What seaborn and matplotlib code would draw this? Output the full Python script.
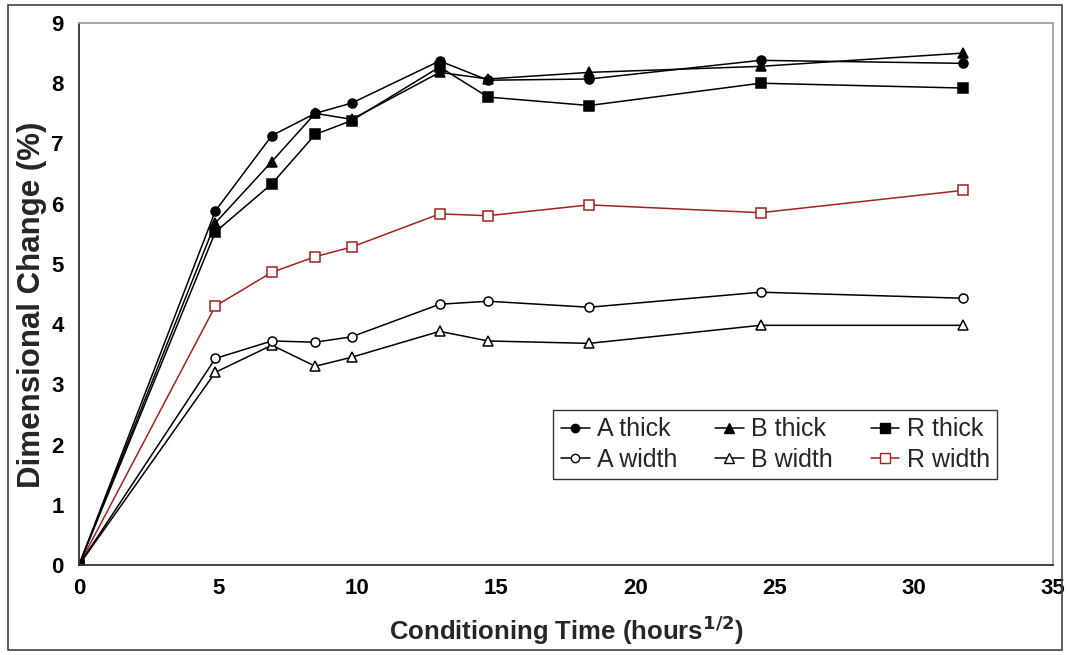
import matplotlib
matplotlib.use("Agg")
import matplotlib.pyplot as plt
import seaborn as sns
import pandas as pd
from matplotlib.lines import Line2D
from matplotlib.patches import Rectangle

# ---- data ----
time_sqrt_hours = [0, 4.90, 6.93, 8.49, 9.80, 12.96, 14.70, 18.33, 24.49, 31.75]
a_thick = [0, 5.88, 7.13, 7.50, 7.67, 8.37, 8.05, 8.07, 8.38, 8.33]
b_thick = [0, 5.68, 6.70, 7.50, 7.40, 8.18, 8.07, 8.18, 8.28, 8.50]
r_thick = [0, 5.53, 6.33, 7.15, 7.38, 8.27, 7.77, 7.63, 8.00, 7.92]
a_width = [0, 3.43, 3.72, 3.70, 3.79, 4.33, 4.38, 4.28, 4.53, 4.43]
b_width = [0, 3.20, 3.65, 3.30, 3.45, 3.88, 3.72, 3.68, 3.98, 3.98]
r_width = [0, 4.30, 4.86, 5.12, 5.28, 5.83, 5.80, 5.98, 5.85, 6.22]
x_ticks = [0, 5, 10, 15, 20, 25, 30, 35]
y_ticks = [0, 1, 2, 3, 4, 5, 6, 7, 8, 9]

sns.set_style("white")
plt.rcParams['font.family'] = ['Liberation Sans', 'DejaVu Sans']

fig = plt.figure(figsize=(10.7, 6.55), dpi=100)
ax = fig.add_axes([79/1070, 1-565/655, (1053-79)/1070, (565-23)/655])

RED = '#A3221E'
series = [
    ("A thick", a_thick, 'o', 'black', 'black', 6.5),
    ("A width", a_width, 'o', 'black', 'white', 6.5),
    ("B thick", b_thick, '^', 'black', 'black', 7),
    ("B width", b_width, '^', 'black', 'white', 7),
    ("R thick", r_thick, 's', 'black', 'black', 7),
    ("R width", r_width, 's', RED, 'white', 7.5),
]
order = ["R width", "B width", "A width", "R thick", "B thick", "A thick"]
sd = {s[0]: s for s in series}
for name in order:
    _, vals, mk, col, fc, ms = sd[name]
    df = pd.DataFrame({"x": time_sqrt_hours, "y": vals})
    sns.lineplot(data=df, x="x", y="y", ax=ax, color=col, marker=mk,
                 markersize=ms, markerfacecolor=fc, markeredgecolor=col,
                 markeredgewidth=1.1, linewidth=1.1, sort=False,
                 estimator=None, legend=False)

handles = []
for name, vals, mk, col, fc, ms in series:
    handles.append(Line2D([], [], color=col, marker=mk, markersize=ms - 0.5,
                          markerfacecolor=fc, markeredgecolor=col,
                          linewidth=1.1, label=name))
leg = ax.legend(handles=handles, ncol=3, loc='upper right',
                bbox_to_anchor=(0.943, 0.286), frameon=True, fancybox=False,
                fontsize=18, handlelength=1.15, handletextpad=0.3,
                columnspacing=1.5, borderpad=0.3, labelspacing=0.25,
                borderaxespad=0)
leg.get_frame().set_edgecolor('black')
leg.get_frame().set_linewidth(1.0)

ax.set_xlim(0, 35)
ax.set_ylim(0, 9)
ax.set_xticks(x_ticks)
ax.set_yticks(y_ticks)
ax.tick_params(direction='in', length=5, width=1, colors='black',
               labelsize=16)
ax.tick_params(axis='x', pad=9)
ax.tick_params(axis='y', pad=11)
for lab in ax.get_xticklabels() + ax.get_yticklabels():
    lab.set_fontweight('bold')

ax.set_xlabel("Conditioning Time (hours$^{\\mathbf{1/2}}$)", fontsize=18.5,
              fontweight='bold', labelpad=11)
ax.set_ylabel("Dimensional Change (%)", fontsize=22.5, fontweight='bold')
ax.yaxis.set_label_coords(-0.033, 0.48)

for side in ['left', 'bottom']:
    ax.spines[side].set_color('#333333')
    ax.spines[side].set_linewidth(1.3)
for side in ['top', 'right']:
    ax.spines[side].set_color('#A0A0A0')
    ax.spines[side].set_linewidth(1.3)
    ax.spines[side].set_visible(True)

fig.patches.append(Rectangle((8/1070, 5/655), 1054/1070, 645/655,
                             transform=fig.transFigure, fill=False,
                             edgecolor='#444444', linewidth=1.2))

fig.savefig("out.png", dpi=100)
